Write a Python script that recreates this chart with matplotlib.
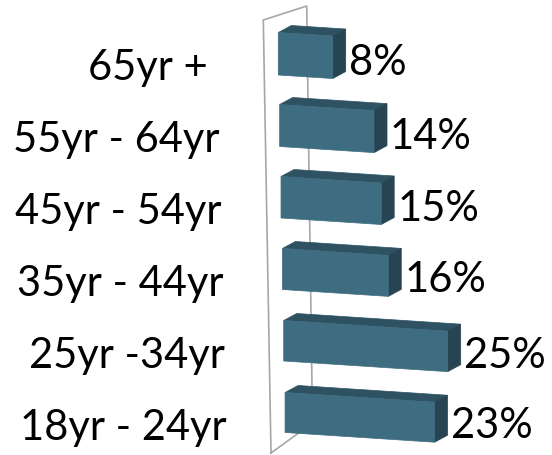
import matplotlib
matplotlib.use("Agg")
import matplotlib.pyplot as plt
from matplotlib.patches import Polygon

# ── Data ──────────────────────────────────────────────────────────────────────
categories = ["65yr + ", "55yr - 64yr", "45yr - 54yr", "35yr - 44yr", "25yr -34yr", "18yr - 24yr"]
values     = [8, 14, 15, 16, 25, 23]          # percent
labels     = [f"{v}%" for v in values]

# ── Pseudo-3D projection (pixel space, y down) ───────────────────────────────
FRONT = "#3E6C80"
TOP   = "#2E5262"
SIDE  = "#264452"
WALL  = "#A6A6A6"
FONT  = "Lato"

DEPTH = (13, -7)     # bar depth vector in px


def bar_frame(r):
    """origin x, origin y, px per %, bar height, slope for row r (0 = top)"""
    x0 = 278.3 + 1.35 * r
    y0 = 32.5 + 72.0 * r
    k  = 6.8 - 0.06 * r
    h  = 42.5 - 0.5 * r
    s  = 0.065
    return x0, y0, k, h, s


fig = plt.figure(figsize=(5.52, 4.55), dpi=100)
ax = fig.add_axes([0, 0, 1, 1])
ax.set_xlim(0, 552)
ax.set_ylim(455, 0)
ax.axis("off")

# back wall of the category axis
wall_tl = (263.3, 20)
wall_bl = (271.0, 453)
wall_tr = (306.7, 6)
wall_br = (312.5, 423)
ax.plot([wall_bl[0], wall_tl[0], wall_tr[0], wall_br[0], wall_bl[0]],
        [wall_bl[1], wall_tl[1], wall_tr[1], wall_br[1], wall_bl[1]],
        color=WALL, lw=1.2, zorder=1, solid_joinstyle="miter")

dx, dy = DEPTH
for r, (cat, v, lab) in enumerate(zip(categories, values, labels)):
    x0, y0, k, h, s = bar_frame(r)
    w = v * k
    tl = (x0, y0)
    tr = (x0 + w, y0 + s * w)
    br = (x0 + w, y0 + s * w + h)
    bl = (x0, y0 + h)
    top  = [tl, tr, (tr[0] + dx, tr[1] + dy), (tl[0] + dx, tl[1] + dy)]
    side = [tr, br, (br[0] + dx, br[1] + dy), (tr[0] + dx, tr[1] + dy)]
    front = [tl, tr, br, bl]
    ax.add_patch(Polygon(top, closed=True, fc=TOP, ec=TOP, lw=0.5, zorder=3))
    ax.add_patch(Polygon(side, closed=True, fc=SIDE, ec=SIDE, lw=0.5, zorder=3))
    ax.add_patch(Polygon(front, closed=True, fc=FRONT, ec=FRONT, lw=0.5, zorder=4))

    # value label
    ax.text(br[0] + dx + 3, br[1] - 4, lab, fontsize=30, family=FONT,
            ha="left", va="baseline", zorder=5)
    # category label
    ax.text(218 + 1.7 * r, 80 + 72 * r, cat, fontsize=30, family=FONT,
            ha="right", va="baseline", zorder=5)

fig.savefig("out.png", dpi=100)
